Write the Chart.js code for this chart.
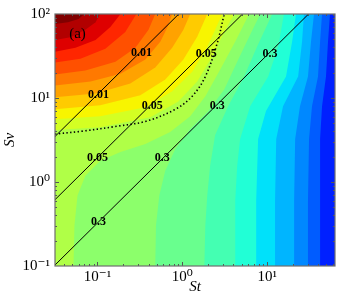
<!DOCTYPE html>
<html>
<head>
<meta charset="utf-8">
<script src="https://cdn.jsdelivr.net/npm/chart.js@4.4.0/dist/chart.umd.min.js"></script>
<style>
    html, body { margin: 0; padding: 0; background: #fff; }
</style>
</head>
<body>
<canvas id="grafico" width="340" height="305"></canvas>
<script>
// =============================================
// Datos del mapa (St, Sv)
// =============================================

// Rango de los ejes
const rangoSt = [0.0316, 63.1];
const rangoSv = [0.1, 100];

// Colores de las bandas, de la mas alta a la mas baja
const coloresBanda = ['#800000', '#b20000', '#de0000', '#ff2600', '#ff5000', '#ff7900', '#ffa200',
    '#ffcb00', '#f8f500', '#d4ff23', '#b0ff47', '#8cff6b', '#69ff8e', '#44ffb2', '#21ffd6',
    '#00e1fa', '#00b5ff', '#0088ff', '#005cff', '#0020ff'];

// Fronteras entre bandas [St, Sv]
const frontera01 = [[0.0316, 76], [0.045, 80], [0.06, 87], [0.07, 100]];
const frontera02 = [[0.0316, 49], [0.048, 53], [0.072, 65], [0.095, 80], [0.108, 100]];
const frontera03 = [[0.0316, 35.6], [0.055, 39.6], [0.095, 49], [0.142, 70], [0.187, 100]];
const frontera04 = [[0.0316, 26.4], [0.063, 29.4], [0.124, 38.6], [0.213, 61], [0.288, 100]];
const frontera05 = [[0.0316, 19.1], [0.072, 21.2], [0.163, 27.1], [0.28, 39.6], [0.40, 65], [0.48, 100]];
const frontera06 = [[0.0316, 14.1], [0.083, 15.7], [0.187, 19.5], [0.367, 28.7], [0.55, 46.7], [0.68, 72], [0.76, 100]];
const frontera07 = [[0.0316, 10.2], [0.095, 11.3], [0.244, 14.9], [0.48, 23], [0.76, 39.6], [1.03, 65], [1.24, 100]];
const frontera08 = [[0.0316, 7.35], [0.108, 8.2], [0.32, 10.8], [0.63, 16.6], [1.03, 28.7], [1.5, 53.5], [1.97, 100]];
const frontera09 = [[0.0316, 5.6], [0.108, 6.07], [0.367, 7.76], [0.76, 12], [1.31, 20.6], [1.97, 40.8], [2.44, 65], [2.96, 100]];
const frontera10 = [[0.0316, 4.15], [0.108, 4.5], [0.42, 5.9], [0.9, 9.1], [1.5, 15.7], [2.25, 31], [3.12, 61], [4.1, 100]];
const frontera11 = [[0.0522, 0.1], [0.0536, 0.305], [0.0582, 0.69], [0.072, 1.19], [0.108, 1.79], [0.187, 2.28], [0.367, 2.84], [0.72, 3.94], [1.24, 6.07], [1.87, 10.5], [2.8, 21.8], [4.2, 46.7], [6.14, 100]];
const frontera12 = [[0.48, 0.1], [0.49, 0.305], [0.536, 0.69], [0.63, 1.36], [0.83, 2.48], [1.24, 4.27], [2.02, 6.97], [3.12, 12.6], [4.44, 27.1], [6.14, 53.5], [8.3, 100]];
const frontera13 = [[1.82, 0.1], [1.87, 0.305], [1.97, 0.69], [2.13, 1.56], [2.44, 3.62], [3.47, 8], [5.36, 18], [7.6, 40.8], [11.5, 100]];
const frontera14 = [[4.21, 0.1], [4.21, 0.6], [4.44, 1.56], [4.81, 3.25], [6.31, 8], [10.3, 18], [13.5, 40.8], [15.8, 100]];
const frontera15 = [[7.43, 0.1], [7.43, 0.6], [7.83, 3.25], [9.7, 7], [16.7, 18], [19.7, 46.7], [21.9, 100]];
const frontera16 = [[12.4, 0.1], [12.4, 0.6], [12.8, 3.25], [15.4, 8], [23.2, 18], [25.8, 46.7], [27.2, 100]];
const frontera17 = [[20.8, 0.1], [20.8, 0.6], [21.4, 3.25], [24.4, 8], [30.3, 18], [32.9, 46.7], [35.7, 100]];
const frontera18 = [[30.3, 0.1], [30.3, 0.6], [31.2, 3.25], [33.8, 8], [39.8, 18], [42.1, 46.7], [44.4, 100]];
const frontera19 = [[42.1, 0.1], [42.1, 0.6], [42.1, 3.25], [44.4, 8], [49.4, 18], [52.2, 46.7], [55.1, 100]];

// Lineas Sv/St constantes
const linea001 = [[0.0316, 3.48], [0.909, 100]];
const linea005 = [[0.0316, 0.616], [5.13, 100]];
const linea03 = [[0.0316, 0.1027], [30.8, 100]];

// Curva punteada
const curvaPunteada = [[0.0316, 3.72], [0.068, 4.04], [0.172, 4.62], [0.377, 5.3], [0.83, 7.35], [1.31, 10.5], [1.87, 18], [2.58, 45], [3.12, 100]];

// Etiquetas de las lineas
const etiquetaTexto = ['0.01', '0.01', '0.05', '0.05', '0.05', '0.3', '0.3', '0.3', '0.3'];
const etiquetaSt = [0.33, 0.103, 0.444, 1.91, 0.1, 10.8, 2.58, 0.582, 0.103];
const etiquetaSv = [34.6, 10.8, 7.98, 33.7, 1.94, 33.7, 7.98, 1.94, 0.331];

// Rotulo del panel
const rotuloPanel = { texto: '(a)', st: 0.0582, sv: 58.1 };

const fronteras = [frontera01, frontera02, frontera03, frontera04, frontera05, frontera06, frontera07,
    frontera08, frontera09, frontera10, frontera11, frontera12, frontera13, frontera14, frontera15,
    frontera16, frontera17, frontera18, frontera19];

const fuenteSerif = "'Liberation Serif', 'DejaVu Serif', serif";

// Cierra la region de arriba-izquierda de una frontera
function cerrarRegion(frontera) {
    const puntos = frontera.map(p => ({ x: p[0], y: p[1] }));
    if (puntos[0].y <= rangoSv[0]) puntos.unshift({ x: rangoSt[0], y: rangoSv[0] });
    puntos.push({ x: rangoSt[0], y: rangoSv[1] });
    return puntos;
}

function aPuntos(lista) {
    return lista.map(p => ({ x: p[0], y: p[1] }));
}

function esPotencia(v) {
    const e = Math.log10(v);
    return Math.abs(e - Math.round(e)) < 1e-6;
}

// Etiqueta 10^n con superindices
function etiquetaPotencia(v) {
    if (!esPotencia(v)) return '';
    const sup = { '-': '\u207B', '0': '\u2070', '1': '\u00B9', '2': '\u00B2', '3': '\u00B3' };
    const e = String(Math.round(Math.log10(v)));
    return '10' + e.split('').map(c => sup[c]).join('');
}

// Datasets
const datasets = [];
fronteras.forEach((f, i) => {
    datasets.push({
        data: cerrarRegion(f),
        backgroundColor: coloresBanda[i],
        borderColor: 'rgba(0,0,0,0)',
        borderWidth: 0,
        pointRadius: 0,
        tension: 0,
        fill: 'shape',
        order: 100 + i
    });
});

[linea001, linea005, linea03].forEach(l => {
    datasets.push({
        data: aPuntos(l),
        borderColor: '#000',
        borderWidth: 1,
        pointRadius: 0,
        fill: false,
        order: 10
    });
});

datasets.push({
    data: aPuntos(curvaPunteada),
    borderColor: '#000',
    borderWidth: 1.6,
    borderDash: [1.4, 2.4],
    pointRadius: 0,
    tension: 0.35,
    fill: false,
    order: 5
});

// Fondo del area: banda mas baja
const fondo = {
    id: 'fondo',
    beforeDatasetsDraw(chart) {
        const { ctx, chartArea: a } = chart;
        ctx.save();
        ctx.fillStyle = coloresBanda[coloresBanda.length - 1];
        ctx.fillRect(a.left, a.top, a.right - a.left, a.bottom - a.top);
        ctx.restore();
    }
};

// Marco y marcas hacia dentro en los cuatro lados
const marco = {
    id: 'marco',
    afterDatasetsDraw(chart) {
        const { ctx, chartArea: a, scales: { x, y } } = chart;
        ctx.save();
        ctx.strokeStyle = '#555';
        ctx.lineWidth = 1;
        ctx.beginPath();
        for (let d = -2; d <= 2; d++) {
            for (let m = 1; m <= 9; m++) {
                const v = m * Math.pow(10, d);
                const largo = m === 1 ? 4 : 2;
                if (v > rangoSt[0] && v < rangoSt[1]) {
                    const px = Math.round(x.getPixelForValue(v)) + 0.5;
                    ctx.moveTo(px, a.bottom); ctx.lineTo(px, a.bottom - largo);
                    ctx.moveTo(px, a.top); ctx.lineTo(px, a.top + largo);
                }
                if (v > rangoSv[0] && v < rangoSv[1]) {
                    const py = Math.round(y.getPixelForValue(v)) + 0.5;
                    ctx.moveTo(a.left, py); ctx.lineTo(a.left + largo, py);
                    ctx.moveTo(a.right, py); ctx.lineTo(a.right - largo, py);
                }
            }
        }
        ctx.stroke();
        ctx.strokeStyle = '#6e6e6e';
        ctx.lineWidth = 1.2;
        ctx.strokeRect(a.left, a.top, a.right - a.left, a.bottom - a.top);
        ctx.restore();
    }
};

// Textos sobre las lineas y rotulo
const textos = {
    id: 'textos',
    afterDatasetsDraw(chart) {
        const { ctx, scales: { x, y } } = chart;
        ctx.save();
        ctx.fillStyle = '#000';
        ctx.textAlign = 'center';
        ctx.textBaseline = 'middle';
        ctx.font = 'bold 12px ' + fuenteSerif;
        etiquetaTexto.forEach((t, i) => {
            ctx.fillText(t, x.getPixelForValue(etiquetaSt[i]), y.getPixelForValue(etiquetaSv[i]));
        });
        ctx.font = '15px ' + fuenteSerif;
        ctx.fillText(rotuloPanel.texto, x.getPixelForValue(rotuloPanel.st), y.getPixelForValue(rotuloPanel.sv));
        ctx.restore();
    }
};

const grafico = new Chart(document.getElementById('grafico'), {
    type: 'line',
    data: { datasets: datasets },
    options: {
        responsive: false,
        animation: false,
        devicePixelRatio: 1,
        layout: { padding: { top: 12, right: 5, left: 0, bottom: 0 } },
        plugins: { legend: { display: false }, tooltip: { enabled: false } },
        scales: {
            x: {
                type: 'logarithmic',
                min: rangoSt[0],
                max: rangoSt[1],
                grid: { display: false, drawTicks: false },
                border: { display: false },
                ticks: {
                    autoSkip: false, maxRotation: 0, padding: 2, color: '#000',
                    font: { family: fuenteSerif, size: 15 },
                    callback: v => etiquetaPotencia(v)
                },
                title: {
                    display: true, text: 'St', color: '#000',
                    font: { family: fuenteSerif, size: 15, style: 'italic' },
                    padding: { top: 0, bottom: 9 }
                },
                afterFit: s => { s.height = 39; }
            },
            y: {
                type: 'logarithmic',
                min: rangoSv[0],
                max: rangoSv[1],
                grid: { display: false, drawTicks: false },
                border: { display: false },
                ticks: {
                    autoSkip: false, padding: 5, color: '#000',
                    font: { family: fuenteSerif, size: 15 },
                    callback: v => etiquetaPotencia(v)
                },
                title: {
                    display: true, text: 'Sv', color: '#000',
                    font: { family: fuenteSerif, size: 15, style: 'italic' },
                    padding: { top: 1, bottom: 0 }
                },
                afterFit: s => { s.width = 55; }
            }
        }
    },
    plugins: [fondo, marco, textos]
});
</script>
</body>
</html>
